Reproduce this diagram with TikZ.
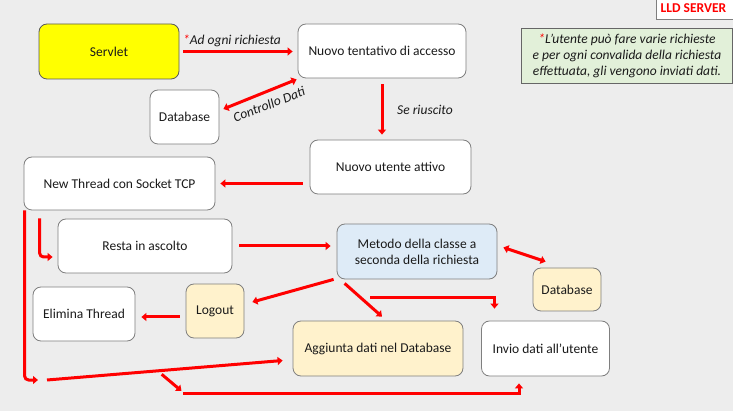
\documentclass[tikz,border=0pt]{standalone}
\usepackage{fontspec}
\setmainfont{Carlito}
\usetikzlibrary{arrows.meta,calc}
\definecolor{bg}{HTML}{EDEDED}
\definecolor{bord}{HTML}{7F7F7F}
\definecolor{ybox}{HTML}{FFFF00}
\definecolor{bbox}{HTML}{DEEBF7}
\definecolor{obox}{HTML}{FFF2CC}
\definecolor{gbox}{HTML}{E2F0D9}
\definecolor{txt}{HTML}{1A1A1A}
\begin{document}
\begin{tikzpicture}[x=1pt,y=-1pt,
  box/.style={draw=bord, line width=0.8pt, rounded corners=8pt, fill=white, align=center, inner sep=0pt, text=txt, font=\fontsize{13.5}{16}\selectfont},
  conn/.style={draw=red, line width=3pt, -{Triangle[length=5pt,width=8pt]}},
  dconn/.style={draw=red, line width=3pt, {Triangle[length=5pt,width=8pt]}-{Triangle[length=5pt,width=8pt]}},
  lbl/.style={inner sep=0pt, text=txt, font=\fontsize{13.5}{16}\selectfont\itshape}]
\fill[bg] (0,0) rectangle (733,411);
\useasboundingbox (0,0) rectangle (733,411);
% title
\node[draw=bord, line width=0.8pt, fill=white, minimum width=82pt, minimum height=23pt, inner sep=0pt, anchor=north west] (title) at (656,-4) {};
\node[inner sep=0pt, text=red, font=\fontsize{13.5}{16}\selectfont\bfseries] (titletxt) at (693.5,8.5) {LLD SERVER};
% note
\node[draw=bord!80!black, line width=0.8pt, fill=gbox, minimum width=211pt, minimum height=55pt, inner sep=0pt, align=center, text=txt, font=\fontsize{13.5}{16}\selectfont\itshape] (note) at (627,55.5) {\textcolor{red}{*}L’utente può fare varie richieste\\ e per ogni convalida della richiesta\\ effettuata, gli vengono inviati dati.};
% boxes
\node[box, fill=ybox, draw=bord!70!black, minimum width=140pt, minimum height=55pt] (servlet) at (109,51.5) {Servlet};
\node[box, minimum width=168pt, minimum height=54pt] (nuovo) at (382,51) {Nuovo tentativo di accesso};
\node[box, minimum width=69pt, minimum height=54pt] (db1) at (184.5,117) {Database};
\node[box, minimum width=161pt, minimum height=54pt] (utente) at (390.5,167) {Nuovo utente attivo};
\node[box, minimum width=191pt, minimum height=53pt] (thread) at (119.5,183.5) {New Thread con Socket TCP};
\node[box, minimum width=174pt, minimum height=54pt] (resta) at (145,246) {Resta in ascolto};
\node[box, fill=bbox, minimum width=160pt, minimum height=55pt] (metodo) at (417,251.5) {Metodo della classe a\\seconda della richiesta};
\node[box, fill=obox, minimum width=68pt, minimum height=43pt] (db2) at (567,289.5) {Database};
\node[box, fill=obox, minimum width=58pt, minimum height=54pt] (logout) at (215,311) {Logout};
\node[box, minimum width=102pt, minimum height=54pt] (elimina) at (84,314) {Elimina Thread};
\node[box, fill=obox, minimum width=170pt, minimum height=55pt] (aggiunta) at (378,348.5) {Aggiunta dati nel Database};
\node[box, minimum width=128pt, minimum height=55pt] (invio) at (545.5,348.5) {Invio dati all’utente};
% connectors
\draw[conn, shorten <=4pt, shorten >=5pt] (servlet.east) -- (servlet.east -| nuovo.west);
\node[lbl] (l1) at (232,41) {\textcolor{red}{*}Ad ogni richiesta};
\draw[dconn] ($(nuovo.south west)+(-1,1)$) -- ($(db1.east)+(4,-8)$);
\node[lbl, rotate=21] (l2) at (269,104.5) {Controllo Dati};
\draw[conn] ($(nuovo.south)+(0,6)$) -- ($(utente.north -| nuovo.south)+(0,-5)$);
\node[lbl] (l3) at (425,110) {Se riuscito};
\draw[conn] ($(thread.east -| utente.west)+(-7,0)$) -- ($(thread.east)+(5,0)$);
\coordinate (hub) at (42,380);
\draw[conn, rounded corners=4pt] ($(thread.south west)+(1,0)$) |- ($(hub)+(-4,0)$);
\draw[conn, rounded corners=4pt] ($(thread.south west)+(16,8)$) |- ($(resta.west)+(-5,11)$);
\draw[conn] ($(resta.east)+(7,0)$) -- ($(resta.east -| metodo.west)+(-6,0)$);
\draw[dconn] ($(metodo.east)+(6,-4)$) -- ($(db2.north west)+(13,-6)$);
\draw[conn] ($(metodo.south west)+(-3,0)$) -- ($(logout.east)+(8,-9)$);
\draw[conn] ($(metodo.south west)+(8,4)$) -- ($(aggiunta.north)+(4,-4)$);
\coordinate (br) at (370,297.3);
\draw[conn] (br) -| ($(invio.north)+(-51,-12)$);
\draw[conn] ($(logout.west)+(-6,6)$) -- ($(elimina.east)+(6,3)$);
\draw[conn] ($(hub)+(5,0)$) -- ($(aggiunta.west)+(-10,12)$);
\coordinate (fork) at (161.7,374.3);
\coordinate (corner) at (183,393.3);
\draw[conn] (fork) -- ($(corner)+(-1.5,-2.3)$);
\draw[conn] (corner) -| ($(invio.south)+(-26.5,7)$);
\end{tikzpicture}
\end{document}
